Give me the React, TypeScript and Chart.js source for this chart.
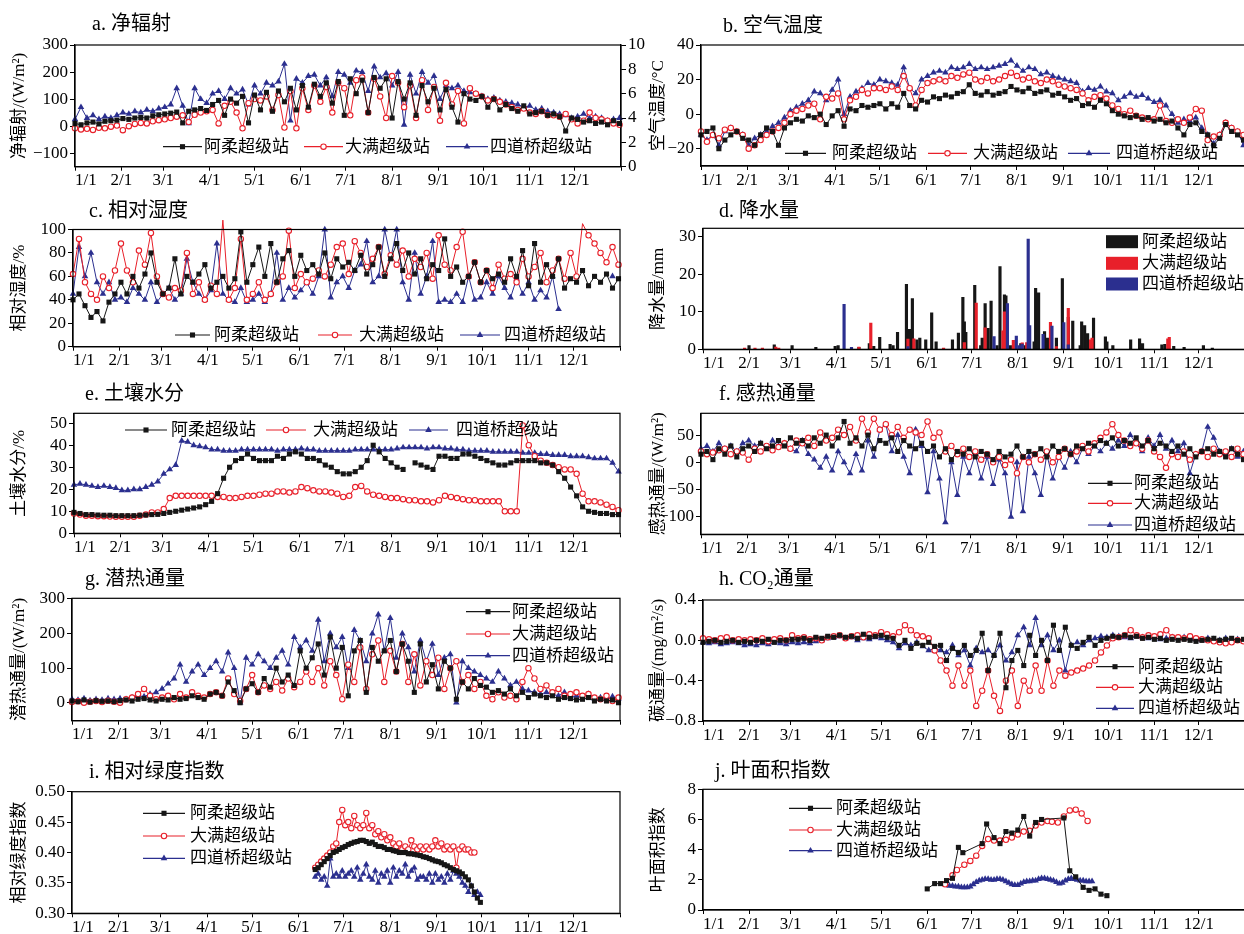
import React, { useEffect, useRef } from 'react';
import { Chart, registerables } from 'chart.js';

Chart.register(...registerables);

const SERIF = "'Liberation Serif', 'Noto Sans CJK SC', serif";
const BLACK = '#161616';
const RED = '#e8202a';
const BLUE = '#2b2f8f';

// ---------- categories ----------
const STATIONS = ['阿柔超级站', '大满超级站', '四道桥超级站'];
const MONTH_TICKS = [0, 31, 59, 90, 120, 151, 181, 212, 243, 273, 304, 334, 365];
const MONTH_LABELS = ['1/1', '2/1', '3/1', '4/1', '5/1', '6/1', '7/1', '8/1', '9/1', '10/1', '11/1', '12/1', ''];
const DAYS = [0, 4, 8, 12, 16, 20, 24, 28, 32, 36, 40, 44, 48, 52, 56, 60, 64, 68, 72, 76, 80, 84, 88, 92, 96, 100, 104, 108, 112, 116, 120, 124, 128, 132, 136, 140, 144, 148, 152, 156, 160, 164, 168, 172, 176, 180, 184, 188, 192, 196, 200, 204, 208, 212, 216, 220, 224, 228, 232, 236, 240, 244, 248, 252, 256, 260, 264, 268, 272, 276, 280, 284, 288, 292, 296, 300, 304, 308, 312, 316, 320, 324, 328, 332, 336, 340, 344, 348, 352, 356, 360, 364];

// ---------- a. net radiation (W/m2) ----------
const NR_AROU = [10, 5, 12, 15, 8, 18, 20, 22, 28, 25, 30, 32, 30, 38, 42, 45, 48, 52, 12, 55, 60, 65, 58, 80, 95, 40, 100, 85, 110, 12, 115, 60, 125, 55, 130, 90, 140, 60, 150, 70, 155, 110, 160, 85, 165, 40, 175, 120, 170, 50, 180, 140, 175, 30, 165, 100, 160, 40, 150, 90, 140, 60, 135, 70, 15, 120, 100, 95, 110, 70, 100, 60, 80, 65, 55, 75, 45, 50, 55, 40, 45, 35, -18, 30, 25, 15, 20, 10, 15, 5, 20, 10];
const NR_DAMAN = [-8, -12, -10, -14, -6, -8, -2, 2, -15, 0, 8, 12, 10, 18, 22, 25, 30, 35, 40, 15, 42, 50, 55, 60, 10, 75, 90, 50, -8, 85, 100, 95, 110, 60, 115, -5, 130, -8, 140, 60, 150, 90, 145, 50, 160, 140, 40, 170, 180, 50, 175, 110, 30, 185, 160, 70, 150, 30, 170, 60, 145, 20, 160, 80, 130, 10, 140, 120, 110, 95, 100, 90, 80, 70, 60, 65, 50, 45, 55, 40, 40, 35, 45, 25, 10, 20, 50, 30, 25, 20, 10, 5];
const NR_SIDAO = [25, 70, 30, 40, 25, 35, 30, 40, 50, 45, 55, 50, 60, 55, 65, 70, 80, 140, 75, 10, 140, 100, 85, 120, 130, 100, 140, 120, 135, 80, 150, 120, 160, 150, 165, 230, 20, 175, 160, 185, 190, 150, 180, 110, 200, 190, 160, 205, 200, 130, 220, 180, 195, 150, 200, 5, 190, 120, 200, 160, 185, 100, 150, 140, 150, 130, 125, 120, 110, 100, 105, 95, 90, 85, 80, 70, 75, 60, 65, 55, 50, 45, 40, 30, 35, 45, 30, 35, 30, 20, 25, 30];

// ---------- b. air temperature (°C) ----------
const TA_AROU = [-12, -10, -8, -20, -15, -12, -10, -14, -15, -18, -12, -8, -10, -18, -8, -5, -3, -4, -1, -2, 0, -6, -1, 2, -7, 3, 2, 5, 4, 5, 6, 3, 6, 4, 12, 5, 3, 8, 7, 10, 9, 11, 10, 12, 13, 17, 12, 11, 13, 11, 12, 13, 16, 14, 13, 15, 12, 13, 14, 11, 12, 10, 8, 9, 5, 6, 4, 8, 6, 2, 0, -1, -2, -1, -3, -2, -4, -3, -5, -4, -8, -12, -6, -5, -10, -12, -18, -14, -6, -10, -12, -15];
const TA_DAMAN = [-10, -16, -12, -14, -9, -8, -10, -12, -20, -18, -15, -12, -10, -8, -5, 0, 2, 3, 5, 6, -3, 10, 9, 12, -3, 8, 10, 14, 12, 15, 15, 14, 16, 14, 22, 15, 5, 14, 18, 19, 20, 19, 22, 21, 23, 24, 20, 19, 21, 19, 20, 22, 24, 22, 20, 21, 19, 18, 20, 19, 17, 16, 15, 14, 12, 8, 10, 11, 9, 5, 3, 0, 2, -1, -2, -3, -3, 5, -4, -5, -3, -5, -2, 3, 2, -15, -13, -12, -5, -8, -10, -12];
const TA_SIDAO = [-12, -15, -12, -18, -10, -8, -10, -12, -18, -14, -12, -10, -7, -5, -2, 2, 4, 6, 8, 13, 12, 8, 14, 20, 0, 10, 13, 15, 18, 17, 20, 19, 18, 17, 27, 15, 12, 20, 22, 24, 25, 24, 27, 26, 27, 29, 26, 27, 26, 27, 28, 29, 31, 28, 25, 27, 26, 23, 24, 22, 21, 20, 19, 18, 13, 15, 14, 16, 13, 12, 8, 10, 12, 10, 11, 9, 7, 8, 5, 0, -5, -3, -4, -2, -8, -12, -17, -12, -5, -8, -10, -18];

// ---------- c. relative humidity (%) ----------
const RH_AROU = [40, 45, 35, 25, 30, 22, 38, 45, 55, 45, 60, 50, 62, 80, 55, 45, 50, 75, 45, 60, 55, 62, 70, 50, 55, 60, 50, 58, 98, 55, 70, 85, 60, 88, 55, 75, 82, 60, 78, 65, 70, 62, 80, 58, 75, 68, 72, 65, 78, 62, 70, 85, 60, 75, 88, 65, 80, 62, 75, 58, 70, 65, 92, 60, 68, 55, 60, 72, 55, 65, 58, 62, 55, 75, 60, 82, 52, 88, 55, 70, 60, 75, 50, 58, 55, 65, 52, 60, 55, 62, 50, 58];
const RH_DAMAN = [62, 92, 55, 45, 40, 60, 50, 65, 88, 65, 55, 82, 70, 97, 60, 45, 42, 50, 48, 80, 45, 55, 40, 52, 45, 108, 40, 50, 92, 40, 45, 55, 40, 45, 55, 60, 99, 50, 62, 55, 58, 65, 60, 70, 85, 88, 62, 90, 80, 68, 75, 85, 62, 78, 70, 82, 60, 75, 68, 80, 58, 95, 70, 65, 85, 98, 60, 72, 55, 65, 50, 70, 58, 62, 55, 75, 60, 68, 80, 55, 65, 75, 58, 80, 60, 105, 95, 88, 80, 72, 85, 70];
const RH_SIDAO = [45, 85, 60, 80, 55, 45, 55, 40, 42, 38, 50, 45, 40, 55, 38, 45, 50, 40, 45, 75, 55, 45, 40, 48, 88, 45, 40, 38, 50, 38, 40, 45, 38, 45, 80, 40, 50, 42, 48, 55, 45, 60, 100, 42, 55, 60, 50, 65, 70, 90, 55, 60, 100, 75, 100, 55, 40, 80, 45, 60, 90, 38, 40, 38, 45, 38, 60, 40, 42, 55, 45, 60, 50, 42, 58, 45, 55, 40, 48, 42, 60, 32, null, null, null, null, null, null, null, null, 60, null];

// ---------- d. precipitation (mm) ----------
const P_AROU_DAYS = [31, 48, 60, 76, 89, 91, 105, 112, 115, 119, 126, 128, 131, 137, 139, 141, 144, 146, 150, 154, 157, 168, 172, 175, 176, 177, 183, 187, 188, 190, 192, 194, 198, 200, 203, 204, 207, 214, 217, 223, 224, 226, 230, 232, 238, 242, 246, 249, 254, 255, 257, 259, 263, 271, 272, 276, 288, 294, 296, 309, 311, 317, 324, 337, 343];
const P_AROU_MM = [1, 1.2, 1, 0.5, 0.8, 1, 0.5, 1.5, 0.8, 3.2, 1.3, 1, 4.5, 17.3, 5.3, 13.5, 2.5, 3, 2.5, 9.7, 2, 2.5, 4.3, 13.8, 7.3, 4.5, 17, 1, 3, 12.2, 5.6, 12.8, 1, 22, 14.5, 14.2, 1, 1.5, 1, 2, 16.2, 15, 4.7, 3, 3, 18.8, 8.5, 7.5, 1, 7.3, 6.3, 4.2, 8.3, 3.3, 2, 1, 2.5, 2.8, 1.5, 1.2, 1.3, 0.8, 0.5, 1, 0.3];
const P_DAMAN_DAYS = [28, 35, 40, 49, 51, 105, 113, 138, 142, 162, 176, 184, 190, 202, 203, 209, 215, 218, 234, 238, 246, 261, 262, 313, 314];
const P_DAMAN_MM = [0.3, 0.3, 0.3, 0.6, 0.3, 0.6, 7, 2.7, 2.8, 0.3, 1.8, 12.3, 5.7, 4.9, 10, 2.4, 1.7, 1.8, 7.2, 0.7, 10.9, 2.5, 3, 2.8, 3.2];
const P_SIDAO_DAYS = [95, 100, 138, 196, 205, 211, 213, 215, 219, 220, 229, 235, 243, 246];
const P_SIDAO_MM = [12, 0.5, 0.7, 3.4, 12.2, 3.5, 1, 1.4, 29.3, 6.3, 4, 6.2, 7.1, 1.2];

// ---------- e. soil moisture (%) ----------
const SM_AROU = [9.5, 9, 8.5, 8.5, 8.3, 8.2, 8.2, 8, 8, 8, 8, 8.2, 8.3, 8.5, 8.6, 9, 9.5, 10, 10.5, 11, 11.5, 12, 13, 14.5, 18, 25, 30, 33, 34, 36, 34, 33, 33, 33, 35, 34, 36, 37, 36, 34, 34, 33, 31, 30, 28, 27, 27, 28, 30, 33, 40, 37, 34, 32, 30, 29, null, 32, 31, 30, 29, 35, 35, 34, 34, 36, 36, 35, 34, 33, 32, 31, 31, 32, 33, 33, 33, 33, 32, 32, 31, 28, 25, 21, 17, 12, 10, 9.5, 9, 9, 8.5, 8.5];
const SM_DAMAN = [9, 8.5, 8, 8, 7.8, 7.8, 7.6, 7.5, 7.5, 7.5, 7.5, 8, 8.5, 9.5, 9.5, 11, 16, 17, 17, 17, 17, 17, 17, 17, 16.5, 16.5, 16, 16, 16.5, 17, 17, 17.5, 18, 18, 19, 19, 18.5, 19, 21, 20.5, 19.5, 19, 19, 18.5, 18, 16.5, 17, 21, 21.5, 19, 17.5, 17, 16.5, 16, 16, 15.5, 15, 15, 14.5, 14.5, 14, 15, 17, 16.5, 16, 15.5, 15, 15, 14.5, 14.5, 14.5, 14.5, 10, 10, 10, 49, 40, 35, 33, 32, 31, 30, 29, 29, 27, 18, 14.5, 14.5, 14, 13, 12, 10.5];
const SM_SIDAO = [22, 22.5, 22, 21.5, 21, 21.5, 21, 20.5, 19.5, 19.5, 20, 20, 21, 22, 23.5, 27, 29, 31, 42, 41.5, 40, 39.5, 39, 38, 38, 37.5, 37.5, 37.5, 38, 38, 38, 38, 38, 38, 37.5, 38, 38, 38, 38.5, 38, 38, 37.5, 37.5, 37.5, 37.5, 37.5, 37.5, 38, 38, 38, 38, 38, 38, 38, 38.5, 39, 39, 39, 39, 38.5, 39, 39, 38.5, 38.5, 38, 38, 37.5, 37.5, 37.5, 37.5, 37, 37, 37, 37, 37, 36.5, 36.5, 36.5, 36, 36, 35.5, 35.5, 35.5, 35, 35, 35, 34.5, 34, 34, 34, 32, 28];

// ---------- f. sensible heat flux (W/m2) ----------
const H_AROU = [15, 20, 5, 25, 15, 30, 10, 25, 30, 20, 35, 25, 30, 40, 30, 45, 35, 40, 30, 45, 35, 50, 30, 45, 75, 35, 45, 30, 50, 25, 40, 35, 45, 20, 40, 30, 25, 35, 20, 30, 10, 25, 5, 20, 15, 25, 10, 20, 15, 5, 20, 10, 15, 30, 10, 20, 15, 25, 10, 30, 20, 25, 15, 30, 25, 35, 30, 40, 35, 45, 30, 40, 35, 45, 30, 40, 25, 35, 30, 20, 30, 15, 25, 10, 20, 25, 15, 20, 10, 25, 15, 5];
const H_DAMAN = [20, 15, 18, 22, 25, 15, 20, 18, 5, 25, 20, 30, 22, 28, 35, 25, 40, 35, 45, 30, 55, 40, 45, 60, 50, 65, 40, 80, 55, 80, 60, 70, 50, 65, 45, 60, 55, 50, 75, 45, 55, 20, 30, 15, 25, 10, 20, 5, 15, 0, 10, -5, 5, -20, 10, 0, 15, 5, 20, 0, 10, 25, 15, 20, 30, 20, 35, 45, 55, 70, 50, 40, 30, 35, 25, 40, 20, 10, -10, 15, 10, 20, 5, 15, 20, 10, 25, 15, 20, 10, 25, 15];
const H_SIDAO = [25, 30, 20, 35, 25, 30, 20, 35, 40, 30, 35, 25, 40, 30, 35, 25, 20, 40, 15, 5, -10, 10, -15, 20, 0, -20, 15, -15, 40, 10, 60, 70, 20, 50, 10, -20, 60, 30, -55, 20, -30, -110, 0, -60, 10, -20, 15, -30, 10, -40, 5, -20, -100, 0, -90, 10, -20, -60, 15, -30, 10, -10, 20, 0, 25, 15, 30, 20, 35, 25, 40, 30, 50, 35, 20, 45, 30, 50, 25, 40, 20, 35, -20, 15, 20, 65, 45, 20, 15, 25, 10, 20];

// ---------- g. latent heat flux (W/m2) ----------
const LE_AROU = [5, 3, 8, 2, 6, 4, 5, 3, 6, 8, 5, 10, 12, 8, 5, 10, 8, 15, 10, 12, 20, 15, 10, 25, 30, 20, 60, 35, 0, 40, 55, 30, 70, 45, 100, 60, 80, 50, 150, 100, 130, 170, 80, 190, 100, 160, 20, 150, 180, 30, 160, 120, 150, 180, 90, 170, 120, 30, 170, 60, 110, 40, 120, 100, 10, 60, 40, 70, 50, 45, 30, 35, 25, 40, 20, 30, 15, 25, 20, 15, 20, 10, 15, 12, 8, 10, 15, 5, 10, 5, 8, 0];
const LE_DAMAN = [2, 4, 0, 3, 5, 2, 6, 3, 0, 10, 15, 25, 40, 20, 10, 15, 20, 10, 25, 15, 30, 20, 15, 25, 30, 20, 70, 25, 5, 40, 80, 30, 50, 40, 60, 35, 70, 45, 60, 90, 60, 100, 50, 120, 80, 10, 110, 60, 160, 40, 140, 180, 60, 150, 90, 170, 60, 140, 50, 120, 80, 130, 40, 100, 120, 60, 80, 40, 60, 20, 10, 30, 15, 20, 10, 60, 100, 70, 40, 50, 30, 40, 20, 25, 30, 20, 25, 15, 10, 20, 5, 15];
const LE_SIDAO = [10, 8, 12, 6, 10, 8, 12, 10, 12, 10, 15, 20, 18, 25, 30, 40, 55, 70, 110, 60, 90, 110, 80, 100, 120, 90, 145, 100, 0, 130, 110, 140, 120, 100, 130, 150, 110, 190, 160, 180, 150, 240, 120, 200, 160, 190, 100, 210, 180, 120, 200, 255, 150, 245, 130, 200, 160, 90, 180, 120, 170, 80, 130, 140, 0, 120, 100, 90, 80, 70, 60, 90, 70, 50, 60, 40, 35, 30, 25, 30, 25, 20, 30, 15, 20, 15, 25, 12, 15, 10, 18, 12];

// ---------- h. CO2 flux (mg/m2/s) ----------
const FC_AROU = [-0.02, -0.01, 0.0, -0.02, -0.01, 0.0, -0.02, -0.01, -0.02, 0.0, -0.01, 0.01, -0.02, 0.0, 0.0, 0.01, 0.01, 0.02, 0.0, 0.03, 0.02, 0.04, 0.03, 0.05, 0.03, 0.04, 0.02, 0.06, 0.03, 0.04, 0.05, 0.03, 0.02, -0.05, 0.0, -0.08, -0.03, -0.05, -0.02, -0.06, -0.05, -0.2, -0.08, -0.12, -0.05, -0.15, -0.1, 0.07, -0.3, -0.15, 0.07, -0.47, -0.2, -0.1, -0.25, 0.05, -0.15, 0.0, -0.2, 0.15, -0.1, 0.13, -0.05, -0.08, -0.02, 0.03, -0.05, 0.0, 0.02, 0.04, 0.03, 0.05, 0.03, 0.04, 0.02, 0.03, 0.01, 0.02, 0.0, 0.01, 0.0, 0.01, 0.0, -0.01, 0.0, 0.01, 0.02, 0.0, 0.01, 0.02, 0.0, 0.01];
const FC_DAMAN = [0.02, 0.01, 0.0, 0.02, 0.03, 0.0, 0.01, 0.0, 0.01, 0.0, 0.02, -0.01, 0.01, 0.02, 0.0, 0.05, 0.02, 0.03, 0.01, 0.02, 0.0, 0.03, 0.04, 0.05, 0.02, 0.04, 0.05, 0.03, 0.06, 0.05, 0.08, 0.06, 0.04, 0.08, 0.15, 0.1, 0.05, 0.04, 0.02, -0.1, -0.2, -0.3, -0.45, -0.25, -0.45, -0.3, -0.65, -0.5, -0.3, -0.55, -0.7, -0.4, -0.3, -0.65, -0.4, -0.5, -0.25, -0.5, -0.2, -0.45, -0.3, -0.35, -0.32, -0.3, -0.28, -0.25, -0.2, -0.12, -0.05, 0.02, 0.03, 0.05, 0.1, 0.05, 0.03, 0.05, 0.04, 0.06, 0.1, 0.03, 0.03, 0.02, 0.04, 0.02, 0.01, 0.0, -0.01, -0.02, -0.03, -0.02, 0.0, -0.01];
const FC_SIDAO = [-0.02, -0.03, -0.02, -0.04, -0.03, -0.02, -0.03, -0.05, -0.04, -0.05, -0.03, -0.04, -0.02, -0.03, -0.04, -0.02, -0.03, -0.02, -0.03, -0.01, 0.0, 0.02, 0.03, 0.04, 0.02, 0.03, 0.0, 0.02, 0.01, 0.03, 0.02, 0.0, -0.02, -0.08, -0.03, -0.05, -0.02, -0.06, -0.1, -0.08, -0.1, -0.12, -0.05, -0.15, -0.1, -0.25, -0.08, -0.12, -0.1, -0.15, -0.05, -0.2, -0.12, 0.05, 0.13, -0.05, 0.22, -0.05, 0.05, -0.1, 0.0, -0.3, -0.05, -0.02, -0.05, 0.0, 0.02, 0.04, 0.03, 0.05, 0.04, 0.03, 0.02, 0.04, 0.03, 0.02, 0.03, 0.01, 0.02, 0.03, 0.02, 0.03, 0.02, 0.01, 0.0, 0.02, 0.01, 0.0, 0.02, 0.0, 0.01, -0.01];

// ---------- i. relative greenness index ----------
const VI_DAYS = [162, 164, 166, 168, 170, 172, 174, 176, 178, 180, 182, 184, 186, 188, 190, 192, 194, 196, 198, 200, 202, 204, 206, 208, 210, 212, 214, 216, 218, 220, 222, 224, 226, 228, 230, 232, 234, 236, 238, 240, 242, 244, 246, 248, 250, 252, 254, 256, 258, 260, 262, 264, 266, 268, 270, 272];
const VI_AROU = [0.372, 0.375, 0.38, 0.385, 0.39, 0.395, 0.40, 0.402, 0.405, 0.408, 0.41, 0.413, 0.415, 0.417, 0.418, 0.42, 0.42, 0.418, 0.415, 0.417, 0.413, 0.41, 0.41, 0.408, 0.405, 0.405, 0.403, 0.402, 0.40, 0.40, 0.40, 0.398, 0.398, 0.397, 0.396, 0.395, 0.393, 0.392, 0.39, 0.388, 0.386, 0.385, 0.383, 0.38, 0.378, 0.375, 0.372, 0.37, 0.368, 0.365, 0.36, 0.355, 0.345, 0.335, 0.325, 0.318];
const VI_DAMAN = [0.375, 0.38, 0.385, 0.39, 0.395, 0.40, 0.41, 0.415, 0.45, 0.47, 0.445, 0.45, 0.44, 0.46, 0.445, 0.44, 0.445, 0.465, 0.44, 0.445, 0.43, 0.435, 0.425, 0.43, 0.42, 0.425, 0.415, 0.41, 0.415, 0.405, 0.41, 0.405, 0.42, 0.41, 0.405, 0.41, 0.405, 0.41, 0.405, 0.41, 0.42, 0.41, 0.415, 0.405, 0.41, 0.405, 0.41, 0.375, 0.405, 0.41, 0.405, 0.405, 0.40, 0.40, null, null];
const VI_SIDAO = [0.36, 0.365, 0.355, 0.36, 0.345, 0.39, 0.36, 0.365, 0.36, 0.37, 0.36, 0.365, 0.37, 0.36, 0.375, 0.355, 0.365, 0.38, 0.36, 0.355, 0.37, 0.35, 0.365, 0.36, 0.37, 0.35, 0.375, 0.36, 0.37, 0.365, 0.38, 0.36, 0.37, 0.375, 0.355, 0.36, 0.36, 0.355, 0.365, 0.35, 0.365, 0.355, 0.36, 0.35, 0.365, 0.355, 0.37, 0.365, 0.36, 0.35, 0.345, 0.335, 0.345, 0.33, 0.335, 0.33];

// ---------- j. leaf area index ----------
const LAI_AROU_DAYS = [151, 156, 160, 164, 168, 172, 175, 188, 191, 196, 200, 204, 208, 212, 216, 220, 224, 228, 243, 247, 251, 256, 260, 264, 268, 272];
const LAI_AROU = [1.4, 1.75, 1.75, 1.95, 2.1, 4.15, 3.8, 4.4, 5.7, 4.8, 4.4, 5.2, 5.1, 5.3, 6.2, 4.9, 5.8, 6.0, 6.1, 2.6, 2.2, 1.5, 1.3, 1.4, 1.05, 0.95];
const LAI_DAMAN_DAYS = [163, 168, 171, 176, 180, 184, 188, 192, 196, 200, 204, 208, 212, 216, 220, 224, 228, 232, 235, 239, 243, 247, 251, 255, 259];
const LAI_DAMAN = [1.7, 2.3, 2.65, 3.0, 3.25, 3.6, 4.25, 4.7, 4.6, 4.6, 4.65, 4.8, 5.0, 5.2, 5.25, 5.6, 5.8, 5.9, 5.85, 5.8, 6.2, 6.6, 6.65, 6.4, 5.9];
const LAI_SIDAO_DAYS = [166, 168, 170, 172, 174, 176, 178, 180, 182, 184, 186, 188, 190, 192, 194, 196, 198, 200, 202, 204, 206, 208, 210, 212, 214, 216, 218, 220, 222, 224, 226, 228, 230, 232, 234, 236, 238, 240, 242, 244, 246, 248, 250, 252, 254, 256, 258, 260, 262];
const LAI_SIDAO = [1.6, 1.6, 1.55, 1.55, 1.5, 1.5, 1.5, 1.55, 1.7, 1.85, 1.95, 2.0, 2.05, 2.05, 2.0, 2.0, 2.05, 2.05, 2.0, 1.9, 1.8, 1.7, 1.65, 1.65, 1.75, 1.85, 1.9, 1.9, 1.95, 1.95, 2.05, 2.1, 2.1, 2.05, 2.0, 1.95, 1.85, 1.75, 1.8, 1.95, 2.05, 2.1, 2.05, 2.0, 1.95, 1.95, 1.9, 1.9, 1.9];

// ---------- helpers ----------
type Sty = 'k' | 'r' | 'b';
const COLOR: Record<Sty, string> = { k: BLACK, r: RED, b: BLUE };
const TICK_FONT = { family: SERIF, size: 17 };
const MK = { k: 3.6, r: 2.7, b: 3.8 };

const xy = (xs: number[], ys: (number | null)[]) => ys.map((y, i) => ({ x: xs[i], y }));

function lineDS(sty: Sty, idx: number, xs: number[], ys: (number | null)[]) {
  const base: any = {
    type: 'line',
    label: STATIONS[idx],
    data: xy(xs, ys),
    borderColor: COLOR[sty],
    borderWidth: 1,
    tension: 0,
    spanGaps: false,
    clip: false,
    order: idx + 1,
    pointHoverRadius: 0,
  };
  if (sty === 'k') {
    return { ...base, pointStyle: 'rect', pointRadius: MK.k, pointBackgroundColor: BLACK, pointBorderColor: BLACK, pointBorderWidth: 0 };
  }
  if (sty === 'r') {
    return { ...base, pointStyle: 'circle', pointRadius: MK.r, pointBackgroundColor: '#ffffff', pointBorderColor: RED, pointBorderWidth: 1.1 };
  }
  return { ...base, pointStyle: 'triangle', pointRadius: MK.b, pointBackgroundColor: BLUE, pointBorderColor: BLUE, pointBorderWidth: 0 };
}

function barDS(sty: Sty, idx: number, xs: number[], ys: number[]) {
  return {
    type: 'bar',
    label: STATIONS[idx],
    data: xy(xs, ys),
    backgroundColor: COLOR[sty],
    borderWidth: 0,
    barThickness: 2.5,
    grouped: false,
    order: 3 - idx,
  };
}

const fmt = (v: number, d: number) => (v < 0 ? '\u2212' : '') + Math.abs(v).toFixed(d);

function yAxis(width: number, min: number, max: number, ticks: number[], dec: number, title: string | null, titlePad: number, position = 'left') {
  const labels = ticks.map((t) => fmt(t, dec));
  return {
    type: 'linear',
    position,
    min,
    max,
    afterBuildTicks: (s: any) => {
      s.ticks = ticks.map((v) => ({ value: v }));
    },
    afterFit: (s: any) => {
      s.width = width;
    },
    ticks: { font: TICK_FONT, color: '#000', padding: 2, autoSkip: false, callback: (_v: any, i: number) => labels[i] },
    grid: { display: true, drawOnChartArea: false, drawTicks: true, tickLength: 5, color: '#000', lineWidth: 1 },
    border: { display: true, color: '#000', width: 1.2 },
    title: title
      ? { display: true, text: title, font: TICK_FONT, color: '#000', padding: { top: titlePad, bottom: 0 } }
      : { display: false },
  };
}

function xAxis(height: number) {
  return {
    type: 'linear',
    min: 0,
    max: 365,
    offset: false,
    afterBuildTicks: (s: any) => {
      s.ticks = MONTH_TICKS.map((v) => ({ value: v }));
    },
    afterFit: (s: any) => {
      s.height = height;
    },
    ticks: {
      font: TICK_FONT,
      color: '#000',
      padding: 0,
      align: 'inner',
      maxRotation: 0,
      minRotation: 0,
      autoSkip: false,
      callback: (_v: any, i: number) => MONTH_LABELS[i],
    },
    grid: { display: true, offset: false, drawOnChartArea: false, drawTicks: true, tickLength: 4, color: '#000', lineWidth: 1 },
    border: { display: true, color: '#000', width: 1.2 },
  };
}

type LegendItem =
  | { kind: 'line'; sty: Sty; x1: number; x2: number; y: number; tx: number; text: string }
  | { kind: 'box'; sty: Sty; x1: number; x2: number; y: number; h: number; tx: number; text: string };

function rowLegend(y: number, spec: [number, number, number][]): LegendItem[] {
  const st: Sty[] = ['k', 'r', 'b'];
  return spec.map((s, i) => ({ kind: 'line', sty: st[i], x1: s[0], x2: s[1], y, tx: s[2], text: STATIONS[i] }));
}
function colLegend(ys: number[], x1: number, x2: number, tx: number): LegendItem[] {
  const st: Sty[] = ['k', 'r', 'b'];
  return ys.map((y, i) => ({ kind: 'line', sty: st[i], x1, x2, y, tx, text: STATIONS[i] }));
}

function drawMarker(ctx: CanvasRenderingContext2D, sty: Sty, x: number, y: number) {
  if (sty === 'k') {
    const s = MK.k * Math.SQRT1_2;
    ctx.fillStyle = BLACK;
    ctx.fillRect(x - s, y - s, 2 * s, 2 * s);
  } else if (sty === 'r') {
    ctx.beginPath();
    ctx.arc(x, y, MK.r, 0, Math.PI * 2);
    ctx.fillStyle = '#fff';
    ctx.fill();
    ctx.strokeStyle = RED;
    ctx.lineWidth = 1.1;
    ctx.stroke();
  } else {
    const r = MK.b;
    ctx.beginPath();
    for (let k = 0; k < 3; k++) {
      const a = (k * 2 * Math.PI) / 3;
      const px = x + Math.sin(a) * r;
      const py = y - Math.cos(a) * r;
      if (k === 0) ctx.moveTo(px, py);
      else ctx.lineTo(px, py);
    }
    ctx.closePath();
    ctx.fillStyle = BLUE;
    ctx.fill();
  }
}

interface PanelCfg {
  id: string;
  cx: number; cy: number; cw: number; ch: number;
  box: { l: number; t: number; r: number; b: number };
  title: string; tx: number; ty: number;
  kind: 'line' | 'bar';
  datasets: any[];
  y: { min: number; max: number; ticks: number[]; dec: number; title: string };
  y2?: { min: number; max: number; ticks: number[]; dec: number };
  legend: LegendItem[];
  titlePad: number;
}

function decor(p: PanelCfg) {
  return {
    id: 'decor',
    afterDraw(chart: any) {
      const ctx: CanvasRenderingContext2D = chart.ctx;
      const ca = chart.chartArea;
      ctx.save();
      ctx.strokeStyle = '#000';
      ctx.lineWidth = 1.2;
      ctx.strokeRect(ca.left, ca.top, ca.right - ca.left, ca.bottom - ca.top);
      ctx.fillStyle = '#000';
      ctx.textBaseline = 'middle';
      ctx.textAlign = 'left';
      ctx.font = `20px ${SERIF}`;
      ctx.fillText(p.title, p.tx - p.cx, p.ty - p.cy);
      ctx.font = `17px ${SERIF}`;
      for (const it of p.legend) {
        const x1 = it.x1 - p.cx;
        const x2 = it.x2 - p.cx;
        const y = it.y - p.cy;
        if (it.kind === 'box') {
          ctx.fillStyle = COLOR[it.sty];
          ctx.fillRect(x1, y - it.h / 2, x2 - x1, it.h);
        } else {
          ctx.strokeStyle = COLOR[it.sty];
          ctx.lineWidth = 1.2;
          ctx.beginPath();
          ctx.moveTo(x1, y);
          ctx.lineTo(x2, y);
          ctx.stroke();
          drawMarker(ctx, it.sty, (x1 + x2) / 2, y);
        }
        ctx.fillStyle = '#000';
        ctx.fillText(it.text, it.tx - p.cx, y + 0.5);
      }
      ctx.restore();
    },
  };
}

function buildConfig(p: PanelCfg) {
  const padTop = p.box.t - p.cy;
  const yW = p.box.l - p.cx;
  const xH = p.cy + p.ch - p.box.b;
  const rightPad = p.cx + p.cw - p.box.r;
  const scales: any = {
    x: xAxis(xH),
    y: yAxis(yW, p.y.min, p.y.max, p.y.ticks, p.y.dec, p.y.title, p.titlePad),
  };
  if (p.y2) {
    scales.y2 = yAxis(rightPad, p.y2.min, p.y2.max, p.y2.ticks, p.y2.dec, null, 0, 'right');
  }
  return {
    type: p.kind,
    data: { datasets: p.datasets },
    options: {
      animation: false,
      responsive: false,
      maintainAspectRatio: false,
      devicePixelRatio: 1,
      events: [],
      layout: { padding: { top: padTop, left: 0, bottom: 0, right: p.y2 ? 0 : rightPad } },
      plugins: { legend: { display: false }, tooltip: { enabled: false }, title: { display: false } },
      scales,
    },
    plugins: [decor(p)],
  };
}

const LX = 0, LW = 660, RX = 640, RW = 610;

const PANELS: PanelCfg[] = [
  {
    id: 'a', cx: LX, cy: 0, cw: LW, ch: 195,
    box: { l: 75, t: 45, r: 621, b: 166.7 },
    title: 'a. 净辐射', tx: 92, ty: 25, kind: 'line',
    datasets: [lineDS('k', 0, DAYS, NR_AROU), lineDS('r', 1, DAYS, NR_DAMAN), lineDS('b', 2, DAYS, NR_SIDAO)],
    y: { min: -150, max: 300, ticks: [-100, 0, 100, 200, 300], dec: 0, title: '净辐射/(W/m²)' },
    y2: { min: 0, max: 10, ticks: [0, 2, 4, 6, 8, 10], dec: 0 },
    legend: rowLegend(146.7, [[163, 202, 204], [304, 343, 345], [446, 488, 490]]),
    titlePad: 9,
  },
  {
    id: 'b', cx: RX, cy: 0, cw: RW, ch: 195,
    box: { l: 701, t: 45, r: 1245, b: 166 },
    title: 'b. 空气温度', tx: 723, ty: 27, kind: 'line',
    datasets: [lineDS('k', 0, DAYS, TA_AROU), lineDS('r', 1, DAYS, TA_DAMAN), lineDS('b', 2, DAYS, TA_SIDAO)],
    y: { min: -30, max: 40, ticks: [-20, 0, 20, 40], dec: 0, title: '空气温度/°C' },
    legend: rowLegend(153.3, [[785, 826, 832], [928, 967, 973], [1068, 1110, 1116]]),
    titlePad: 8,
  },
  {
    id: 'c', cx: LX, cy: 195, cw: LW, ch: 180,
    box: { l: 73, t: 229.5, r: 620, b: 346.7 },
    title: 'c. 相对湿度', tx: 89, ty: 211.7, kind: 'line',
    datasets: [lineDS('k', 0, DAYS, RH_AROU), lineDS('r', 1, DAYS, RH_DAMAN), lineDS('b', 2, DAYS, RH_SIDAO)],
    y: { min: 0, max: 100, ticks: [0, 20, 40, 60, 80, 100], dec: 0, title: '相对湿度/%' },
    legend: rowLegend(335, [[175, 210, 214], [318, 352, 359], [460, 500, 504]]),
    titlePad: 9,
  },
  {
    id: 'd', cx: RX, cy: 195, cw: RW, ch: 180,
    box: { l: 703, t: 228.3, r: 1245, b: 349.3 },
    title: 'd. 降水量', tx: 719, ty: 211.7, kind: 'bar',
    datasets: [barDS('k', 0, P_AROU_DAYS, P_AROU_MM), barDS('r', 1, P_DAMAN_DAYS, P_DAMAN_MM), barDS('b', 2, P_SIDAO_DAYS, P_SIDAO_MM)],
    y: { min: 0, max: 32.2, ticks: [0, 10, 20, 30], dec: 0, title: '降水量/mm' },
    legend: [
      { kind: 'box', sty: 'k', x1: 1106, x2: 1138, y: 241.7, h: 13, tx: 1142, text: STATIONS[0] },
      { kind: 'box', sty: 'r', x1: 1106, x2: 1138, y: 263.3, h: 13, tx: 1142, text: STATIONS[1] },
      { kind: 'box', sty: 'b', x1: 1106, x2: 1138, y: 284, h: 13, tx: 1142, text: STATIONS[2] },
    ],
    titlePad: 8,
  },
  {
    id: 'e', cx: LX, cy: 378, cw: LW, ch: 182,
    box: { l: 74, t: 413.3, r: 620, b: 533.3 },
    title: 'e. 土壤水分', tx: 85, ty: 395, kind: 'line',
    datasets: [lineDS('k', 0, DAYS, SM_AROU), lineDS('r', 1, DAYS, SM_DAMAN), lineDS('b', 2, DAYS, SM_SIDAO)],
    y: { min: 0, max: 54.5, ticks: [0, 10, 20, 30, 40, 50], dec: 0, title: '土壤水分/%' },
    legend: rowLegend(430, [[125, 167, 171], [266, 306, 313], [409, 448, 456]]),
    titlePad: 9,
  },
  {
    id: 'f', cx: RX, cy: 378, cw: RW, ch: 182,
    box: { l: 701, t: 413.3, r: 1245, b: 534.3 },
    title: 'f. 感热通量', tx: 719, ty: 395, kind: 'line',
    datasets: [lineDS('k', 0, DAYS, H_AROU), lineDS('r', 1, DAYS, H_DAMAN), lineDS('b', 2, DAYS, H_SIDAO)],
    y: { min: -132, max: 90, ticks: [-100, -50, 0, 50], dec: 0, title: '感热通量/(W/m²)' },
    legend: colLegend([483.3, 503.3, 525], 1088, 1132, 1134),
    titlePad: 8,
  },
  {
    id: 'g', cx: LX, cy: 562, cw: LW, ch: 186,
    box: { l: 72, t: 598.3, r: 620, b: 720.7 },
    title: 'g. 潜热通量', tx: 85, ty: 580, kind: 'line',
    datasets: [lineDS('k', 0, DAYS, LE_AROU), lineDS('r', 1, DAYS, LE_DAMAN), lineDS('b', 2, DAYS, LE_SIDAO)],
    y: { min: -52, max: 302, ticks: [0, 100, 200, 300], dec: 0, title: '潜热通量/(W/m²)' },
    legend: colLegend([611.7, 634, 655.7], 466, 510, 512),
    titlePad: 9,
  },
  {
    id: 'h', cx: RX, cy: 562, cw: RW, ch: 186,
    box: { l: 703, t: 600, r: 1245, b: 721 },
    title: 'h. CO\u2082通量', tx: 719, ty: 580, kind: 'line',
    datasets: [lineDS('k', 0, DAYS, FC_AROU), lineDS('r', 1, DAYS, FC_DAMAN), lineDS('b', 2, DAYS, FC_SIDAO)],
    y: { min: -0.8, max: 0.4, ticks: [-0.8, -0.4, 0, 0.4], dec: 1, title: '碳通量/(mg/m²/s)' },
    legend: colLegend([666.7, 687.3, 708.3], 1096, 1134, 1138),
    titlePad: 8,
  },
  {
    id: 'i', cx: LX, cy: 752, cw: LW, ch: 182,
    box: { l: 72, t: 791.7, r: 620, b: 913.3 },
    title: 'i. 相对绿度指数', tx: 89, ty: 773, kind: 'line',
    datasets: [lineDS('k', 0, VI_DAYS, VI_AROU), lineDS('r', 1, VI_DAYS, VI_DAMAN), lineDS('b', 2, VI_DAYS, VI_SIDAO)],
    y: { min: 0.3, max: 0.5, ticks: [0.3, 0.35, 0.4, 0.45, 0.5], dec: 2, title: '相对绿度指数' },
    legend: colLegend([813.3, 836, 858.3], 143, 185, 190),
    titlePad: 9,
  },
  {
    id: 'j', cx: RX, cy: 752, cw: RW, ch: 182,
    box: { l: 703, t: 789.3, r: 1245, b: 910 },
    title: 'j. 叶面积指数', tx: 715, ty: 771.7, kind: 'line',
    datasets: [lineDS('k', 0, LAI_AROU_DAYS, LAI_AROU), lineDS('r', 1, LAI_DAMAN_DAYS, LAI_DAMAN), lineDS('b', 2, LAI_SIDAO_DAYS, LAI_SIDAO)],
    y: { min: 0, max: 8, ticks: [0, 2, 4, 6, 8], dec: 0, title: '叶面积指数' },
    legend: colLegend([808.3, 830, 850.7], 789, 832, 836),
    titlePad: 8,
  },
];

function Panel({ cfg }: { cfg: PanelCfg }) {
  const ref = useRef<HTMLCanvasElement | null>(null);
  useEffect(() => {
    if (!ref.current) return;
    const chart = new Chart(ref.current, buildConfig(cfg) as any);
    return () => chart.destroy();
  }, [cfg]);
  return (
    <canvas
      ref={ref}
      width={cfg.cw}
      height={cfg.ch}
      style={{ position: 'absolute', left: cfg.cx, top: cfg.cy, width: cfg.cw, height: cfg.ch }}
    />
  );
}

export default function App() {
  useEffect(() => {
    document.body.style.margin = '0';
  }, []);
  return (
    <div
      style={{
        position: 'absolute',
        left: 0,
        top: 0,
        width: 1244,
        height: 934,
        overflow: 'hidden',
        background: '#ffffff',
      }}
    >
      {PANELS.map((p) => (
        <Panel key={p.id} cfg={p} />
      ))}
    </div>
  );
}
